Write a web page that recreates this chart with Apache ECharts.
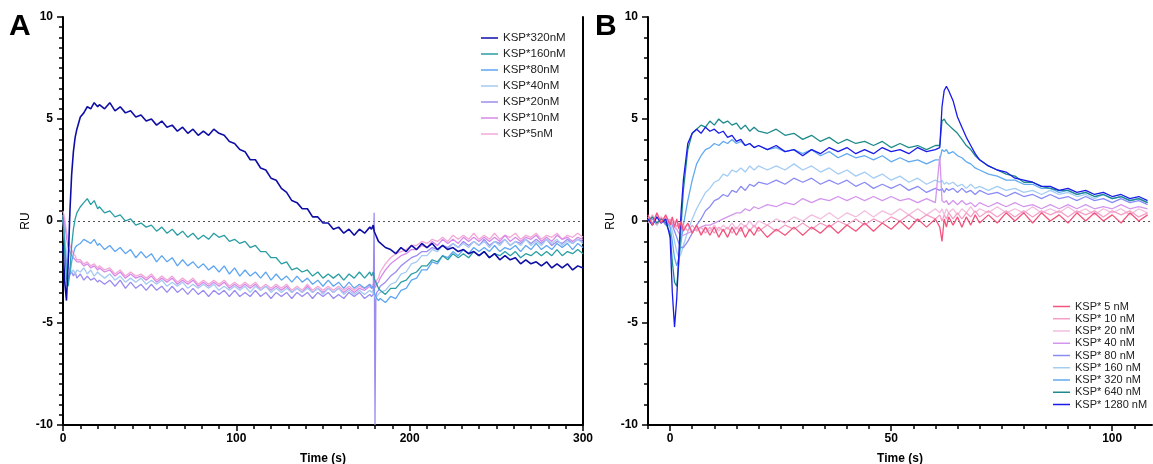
<!DOCTYPE html>
<html>
<head>
<meta charset="utf-8">
<script src="https://cdn.jsdelivr.net/npm/echarts@6/dist/echarts.min.js"></script>
<style>html,body{margin:0;padding:0;background:#fff}#c{width:1153px;height:464px}</style>
</head>
<body>
<div id="c"></div>
<script>
// ---------- Panel A data ----------
const tA = [0,1,2,3,4,5,6,7,8,10,12,14,16,18,20,
21,24,27,30,33,36,39,42,45,48,51,54,57,60,63,66,69,72,75,78,81,84,87,90,93,96,99,102,105,108,111,114,117,120,123,126,129,132,135,138,141,144,147,150,153,156,159,162,165,168,171,174,177,
178,179,179.5,180,180.5,181,182,
183,186,189,192,195,198,201,204,207,210,213,216,219,222,225,228,231,234,237,240,243,246,249,252,255,258,261,264,267,270,273,276,279,282,285,288,291,294,297,300];

const A_320 = [-1.2,-3.0,-3.9,-2.0,0.5,2.3,3.4,4.1,4.5,5.1,5.3,5.6,5.5,5.8,5.6,
5.7,5.5,5.8,5.4,5.6,5.3,5.4,5.1,5.2,4.9, 5.0,4.7,4.9,4.6,4.7,4.4,4.6,4.3,4.5,4.2, 4.4,4.2,4.5,4.3,4.2,3.9,3.8,3.5,3.4,3.0, 3.0,2.6,2.5,2.1,2.0,1.6,1.4,1.0,0.9,0.6, 0.6,0.2,0.2,-0.1,-0.1,-0.4,-0.3,-0.6,-0.4,-0.7, -0.4,-0.6,-0.3,
-0.4,-0.2,-0.5,-0.6,-0.7,-0.8,-1.0,
-1.0,-1.3,-1.4,-1.6,-1.3,-1.5,-1.2,-1.4,-1.1,-1.3, -1.1,-1.4,-1.2,-1.4,-1.3,-1.5,-1.4,-1.6,-1.5,-1.7, -1.5,-1.8,-1.6,-1.9,-1.7,-1.9,-1.8,-2.1,-1.9,-2.1, -2.0,-2.2,-2.0,-2.3,-2.1,-2.3,-2.1,-2.4,-2.2,-2.3];

const A_160 = [0.2,-1.5,-2.8,-3.2,-2.4,-1.2,-0.4,0.1,0.4,0.7,0.9,1.1,0.8,1.0,0.6,
0.7,0.4,0.5,0.2,0.3,0.0,0.1,-0.2,-0.1,-0.3, -0.2,-0.5,-0.3,-0.6,-0.4,-0.7,-0.5,-0.8,-0.6,-0.9, -0.7,-0.9,-0.6,-0.8,-0.7,-1.0,-0.9,-1.1,-1.0,-1.3, -1.2,-1.5,-1.5,-1.8,-1.8,-2.1,-2.0,-2.4,-2.3,-2.5, -2.4,-2.7,-2.5,-2.8,-2.6,-2.8,-2.6,-2.9,-2.6,-2.8, -2.5,-2.8,-2.5,
-2.7,-2.5,-2.8,-2.9,-3.0,-3.1,-3.3,
-3.4,-3.6,-3.3,-3.3,-3.0,-2.9,-2.6,-2.5,-2.2,-2.2, -1.9,-2.0,-1.7,-1.9,-1.6,-1.8,-1.6,-1.8,-1.5,-1.7, -1.5,-1.8,-1.6,-1.7,-1.5,-1.7,-1.5,-1.8,-1.6,-1.7, -1.5,-1.7,-1.5,-1.7,-1.4,-1.7,-1.5,-1.6,-1.4,-1.6];

const A_80 = [0.3,-1.2,-2.4,-3.0,-2.6,-2.0,-1.6,-1.3,-1.2,-1.1,-0.9,-1.0,-1.1,-0.9,-1.2,
-1.1,-1.4,-1.2,-1.5,-1.3,-1.6,-1.4,-1.8,-1.5,-1.8, -1.6,-2.0,-1.7,-2.0,-1.8,-2.2,-1.9,-2.2,-2.0,-2.3, -2.1,-2.4,-2.2,-2.5,-2.2,-2.6,-2.3,-2.7,-2.4,-2.7, -2.5,-2.8,-2.5,-2.9,-2.6,-2.9,-2.7,-3.0,-2.7,-3.0, -2.8,-3.1,-2.9,-3.2,-2.9,-3.2,-3.0,-3.3,-3.0,-3.3, -3.1,-3.3,-3.1,
-3.3,-3.2,-3.5,-3.6,-3.7,-3.8,-3.9,
-3.8,-4.0,-3.7,-3.8,-3.4,-3.3,-2.9,-2.8,-2.4,-2.4, -2.0,-2.1,-1.7,-1.8,-1.5,-1.7,-1.4,-1.6,-1.3,-1.5, -1.3,-1.5,-1.2,-1.5,-1.3,-1.4,-1.2,-1.5,-1.2,-1.4, -1.1,-1.4,-1.2,-1.4,-1.1,-1.3,-1.1,-1.4,-1.1,-1.3];

const A_40 = [0.1,-0.8,-1.6,-2.2,-2.4,-2.5,-2.4,-2.6,-2.4,-2.5,-2.3,-2.6,-2.4,-2.7,-2.5,
-2.6,-2.8,-2.6,-2.9,-2.7,-3.0,-2.8,-3.0,-2.8,-3.1, -2.9,-3.1,-2.9,-3.2,-3.0,-3.2,-3.0,-3.3,-3.1,-3.3, -3.1,-3.3,-3.1,-3.4,-3.2,-3.4,-3.2,-3.4,-3.2,-3.5, -3.2,-3.4,-3.2,-3.5,-3.3,-3.5,-3.3,-3.5,-3.3,-3.5, -3.3,-3.5,-3.3,-3.6,-3.3,-3.5,-3.3,-3.6,-3.4,-3.6, -3.4,-3.6,-3.4,
-3.5,-3.4,-3.6,-3.7,-3.8,-3.7,-3.6,
-3.5,-3.4,-3.1,-3.0,-2.6,-2.5,-2.1,-2.0,-1.7,-1.7, -1.4,-1.5,-1.2,-1.4,-1.1,-1.3,-1.1,-1.3,-1.0,-1.2, -1.0,-1.3,-1.0,-1.2,-0.9,-1.2,-1.0,-1.2,-0.9,-1.2, -1.0,-1.2,-0.9,-1.1,-0.9,-1.2,-1.0,-1.1,-0.9,-1.1];

const A_20 = [0.0,-1.0,-2.0,-2.8,-2.6,-2.5,-2.7,-2.5,-2.8,-2.6,-2.9,-2.7,-2.9,-2.8,-3.0,
-2.9,-3.1,-2.9,-3.2,-2.9,-3.3,-3.0,-3.3,-3.1,-3.4, -3.1,-3.4,-3.2,-3.5,-3.2,-3.5,-3.3,-3.6,-3.3,-3.6, -3.4,-3.7,-3.4,-3.6,-3.4,-3.7,-3.4,-3.7,-3.5,-3.7, -3.4,-3.7,-3.5,-3.8,-3.5,-3.7,-3.5,-3.8,-3.5,-3.7, -3.5,-3.8,-3.5,-3.7,-3.5,-3.8,-3.6,-3.8,-3.5,-3.7, -3.5,-3.8,-3.6,
-3.7,-3.6,0.4,-10,-3.7,-3.5,-3.4,
-3.2,-3.0,-2.7,-2.5,-2.2,-2.0,-1.8,-1.7,-1.5,-1.5, -1.3,-1.4,-1.2,-1.3,-1.1,-1.3,-1.0,-1.2,-1.0,-1.2, -0.9,-1.2,-1.0,-1.1,-0.9,-1.2,-1.0,-1.1,-0.9,-1.1, -0.9,-1.1,-0.9,-1.2,-1.0,-1.1,-0.9,-1.1,-0.9,-1.0];

const A_10 = [0.3,-0.2,-0.8,-1.3,-1.5,-1.7,-1.8,-1.9,-2.0,-2.0,-2.2,-2.1,-2.3,-2.2,-2.4,
-2.3,-2.5,-2.4,-2.7,-2.5,-2.8,-2.6,-2.8,-2.7,-2.9, -2.7,-3.0,-2.8,-3.0,-2.8,-3.1,-2.9,-3.1,-2.9,-3.2, -3.0,-3.2,-3.0,-3.2,-3.0,-3.3,-3.1,-3.3,-3.1,-3.3, -3.1,-3.4,-3.2,-3.4,-3.2,-3.4,-3.2,-3.5,-3.3,-3.5, -3.2,-3.5,-3.3,-3.5,-3.3,-3.5,-3.3,-3.5,-3.3,-3.5, -3.3,-3.4,-3.2,
-3.3,-3.2,-3.3,-3.3,-3.2,-3.1,-3.0,
-2.8,-2.4,-2.1,-1.9,-1.7,-1.6,-1.4,-1.4,-1.2,-1.3, -1.0,-1.2,-0.9,-1.1,-0.9,-1.1,-0.8,-1.0,-0.8,-1.0, -0.8,-1.0,-0.8,-1.0,-0.7,-1.0,-0.8,-1.0,-0.8,-0.9, -0.7,-1.0,-0.8,-1.0,-0.7,-0.9,-0.8,-1.0,-0.8,-0.9];

const A_5 = [0.5,0.1,-0.5,-0.9,-1.2,-1.4,-1.6,-1.7,-1.9,-1.9,-2.1,-2.0,-2.2,-2.1,-2.3,
-2.2,-2.4,-2.3,-2.6,-2.4,-2.7,-2.5,-2.7,-2.6,-2.8, -2.6,-2.9,-2.7,-2.9,-2.7,-3.0,-2.8,-3.0,-2.8,-3.1, -2.9,-3.1,-2.9,-3.1,-2.9,-3.2,-3.0,-3.2,-3.0,-3.2, -3.0,-3.3,-3.1,-3.3,-3.1,-3.3,-3.1,-3.4,-3.2,-3.4, -3.1,-3.4,-3.2,-3.4,-3.2,-3.4,-3.2,-3.4,-3.2,-3.4, -3.2,-3.3,-3.1,
-3.2,-3.1,-3.1,-3.2,-3.0,-2.9,-2.8,
-2.5,-2.1,-1.8,-1.6,-1.5,-1.4,-1.2,-1.2,-1.0,-1.1, -0.9,-1.0,-0.8,-1.0,-0.7,-0.9,-0.7,-0.9,-0.6,-0.9, -0.7,-0.9,-0.6,-0.9,-0.7,-0.8,-0.6,-0.9,-0.7,-0.8, -0.6,-0.9,-0.7,-0.8,-0.6,-0.9,-0.7,-0.8,-0.6,-0.8];

const namesA = ['KSP*320nM','KSP*160nM','KSP*80nM','KSP*40nM','KSP*20nM','KSP*10nM','KSP*5nM'];
const valuesA = [A_320, A_160, A_80, A_40, A_20, A_10, A_5];
const colorsA = ['#0e0ea6','#2a9ea3','#5ea6f2','#a6caf2','#9a8cf0','#d68ae8','#f3a8d6'];

// ---------- Panel B data ----------
const tB = [-5,-4,-3,-2,-1,0,0.5,1,1.5,2,2.5,3,4,5,6,7,8,9,10,11,12,13,14,15,16,17,18,19,20,
22,24,26,28,30,32,34,36,38,40,42,44,46,48,50,52,54,56,58,60,
61,61.5,62,62.5,63,64,65,66,67,68,69,70,
72,74,76,78,80,82,84,86,88,90,92,94,96,98,100,102,104,106,108];

const B_1280 = [0.1,-0.2,0.2,-0.1,0.1,-0.8,-3.5,-5.2,-3.8,-1.5,0.5,2.0,3.8,4.3,4.5,4.3,4.6,4.4,4.5,4.3,4.4,4.1,4.2,3.9,4.0,3.7,3.8,3.6,3.7,
3.5,3.7,3.4,3.5,3.2,3.5,3.3,3.6,3.4,3.6,3.3,3.5,3.3,3.6,3.4,3.5,3.3,3.6,3.4,3.5,
3.6,5.6,6.4,6.6,6.4,5.9,5.1,4.6,4.1,3.7,3.3,3.0,
2.7,2.5,2.4,2.1,2.0,1.9,1.7,1.7,1.5,1.6,1.4,1.5,1.3,1.4,1.2,1.3,1.1,1.2,1.0];

const B_640 = [0.0,0.2,-0.1,0.1,-0.1,-0.6,-2.0,-3.0,-3.2,-2.0,-0.2,1.5,3.5,4.3,4.5,4.7,4.6,4.9,4.7,5.0,4.8,4.9,4.7,4.8,4.5,4.7,4.4,4.6,4.4,
4.3,4.5,4.2,4.3,4.0,4.2,3.9,4.1,3.8,4.0,3.8,3.9,3.7,3.9,3.6,3.8,3.6,3.7,3.5,3.7,
3.7,4.9,5.0,4.8,4.7,4.5,4.3,4.0,3.7,3.5,3.2,3.0,
2.7,2.5,2.3,2.2,1.9,1.9,1.7,1.6,1.5,1.5,1.3,1.4,1.2,1.3,1.1,1.2,1.0,1.1,0.9];

const B_320 = [-0.1,0.1,-0.2,0.1,0.0,-0.3,-1.0,-1.8,-2.2,-1.8,-1.0,-0.2,1.0,2.0,2.8,3.2,3.5,3.6,3.8,3.7,3.9,3.8,4.0,3.8,3.9,3.7,3.8,3.6,3.7,
3.5,3.6,3.4,3.5,3.3,3.5,3.2,3.4,3.1,3.3,3.1,3.2,3.0,3.2,2.9,3.1,2.9,3.0,2.8,3.0,
3.0,3.5,3.4,3.5,3.3,3.4,3.2,3.1,2.9,2.8,2.6,2.5,
2.3,2.2,2.0,2.0,1.8,1.8,1.6,1.6,1.4,1.5,1.3,1.4,1.2,1.3,1.1,1.2,1.0,1.1,0.9];

const B_160 = [0.1,-0.2,0.2,-0.1,0.1,-0.1,-0.5,-1.0,-1.5,-1.8,-1.6,-1.2,-0.5,0.1,0.6,1.0,1.4,1.6,1.9,2.0,2.3,2.2,2.5,2.4,2.6,2.4,2.7,2.5,2.7,
2.5,2.7,2.5,2.8,2.5,2.7,2.4,2.6,2.3,2.5,2.2,2.4,2.1,2.3,2.0,2.2,1.9,2.1,1.8,2.0,
1.9,2.0,1.8,1.9,1.8,1.9,1.7,1.8,1.6,1.8,1.6,1.7,
1.5,1.7,1.5,1.6,1.4,1.5,1.3,1.5,1.3,1.4,1.2,1.3,1.1,1.3,1.1,1.2,1.0,1.1,0.9];

const B_80 = [0.0,0.2,-0.1,0.1,-0.2,0.0,-0.2,-0.5,-0.8,-1.1,-1.3,-1.3,-1.0,-0.6,-0.2,0.1,0.5,0.7,1.0,1.1,1.3,1.2,1.5,1.4,1.7,1.5,1.8,1.7,1.9,
1.8,2.0,1.8,2.1,1.9,2.1,1.8,2.0,1.8,2.0,1.7,1.9,1.6,1.8,1.6,1.8,1.5,1.7,1.4,1.6,
1.5,1.6,1.4,1.6,1.5,1.6,1.4,1.6,1.4,1.5,1.3,1.5,
1.3,1.4,1.2,1.4,1.2,1.3,1.1,1.3,1.1,1.2,1.0,1.2,1.0,1.1,0.9,1.1,0.9,1.0,0.8];

const B_40 = [0.1,-0.1,0.2,-0.1,0.1,0.0,-0.1,-0.3,-0.4,-0.6,-0.7,-0.7,-0.6,-0.5,-0.4,-0.3,-0.2,-0.2,-0.1,0.0,0.1,0.2,0.3,0.4,0.4,0.6,0.5,0.7,0.6,
0.8,0.7,0.9,0.8,1.1,0.9,1.1,1.0,1.2,1.0,1.2,1.0,1.2,1.0,1.2,1.0,1.1,0.9,1.1,0.9,
3.2,1.0,0.9,1.0,0.8,1.0,0.8,1.0,0.8,0.9,0.7,0.9,
0.7,0.9,0.7,0.9,0.7,0.8,0.6,0.8,0.6,0.8,0.6,0.8,0.6,0.7,0.6,0.8,0.6,0.7,0.6];

const B_20 = [0.2,-0.2,0.3,-0.1,0.2,0.0,0.1,-0.1,0.0,-0.2,-0.1,-0.3,-0.2,-0.5,-0.3,-0.6,-0.3,-0.5,-0.2,-0.5,-0.2,-0.4,-0.1,-0.4,-0.1,-0.3,0.0,-0.3,0.0,
-0.2,0.1,-0.1,0.2,0.0,0.3,0.1,0.4,0.1,0.4,0.2,0.5,0.2,0.5,0.3,0.6,0.3,0.6,0.3,0.6,
0.4,0.6,0.3,0.6,0.4,0.6,0.3,0.6,0.4,0.7,0.4,0.6,
0.4,0.7,0.4,0.6,0.4,0.7,0.4,0.6,0.4,0.7,0.4,0.6,0.3,0.6,0.4,0.6,0.3,0.6,0.4];

const B_10 = [-0.1,0.3,-0.2,0.2,-0.1,0.1,-0.1,0.0,-0.3,-0.1,-0.4,-0.2,-0.5,-0.2,-0.5,-0.3,-0.6,-0.3,-0.6,-0.3,-0.5,-0.3,-0.6,-0.3,-0.5,-0.2,-0.5,-0.2,-0.5,
-0.2,-0.5,-0.2,-0.4,-0.1,-0.4,-0.1,-0.3,0.0,-0.2,0.1,-0.2,0.1,-0.1,0.2,0.0,0.3,0.0,0.3,0.1,
0.3,0.0,0.3,0.1,0.4,0.1,0.4,0.1,0.4,0.2,0.5,0.2,
0.5,0.2,0.5,0.2,0.5,0.2,0.5,0.3,0.5,0.2,0.5,0.3,0.5,0.2,0.5,0.3,0.5,0.2,0.4];

const B_5 = [0.3,-0.2,0.4,-0.1,0.3,-0.2,0.2,-0.3,0.1,-0.4,0.0,-0.5,-0.1,-0.6,-0.2,-0.7,-0.3,-0.7,-0.3,-0.8,-0.4,-0.8,-0.3,-0.7,-0.3,-0.8,-0.4,-0.7,-0.3,
-0.8,-0.4,-0.7,-0.3,-0.7,-0.3,-0.6,-0.2,-0.6,-0.2,-0.5,-0.1,-0.5,-0.1,-0.4,0.0,-0.4,0.1,-0.3,0.1,
-0.3,-1.0,0.1,-0.3,0.2,-0.2,0.2,-0.3,0.2,-0.2,0.3,-0.1,
0.3,-0.1,0.4,0.0,0.4,-0.1,0.4,0.0,0.3,-0.1,0.4,0.0,0.4,0.0,0.3,-0.1,0.4,0.0,0.3];

const namesB = ['KSP* 5 nM','KSP* 10 nM','KSP* 20 nM','KSP* 40 nM','KSP* 80 nM','KSP* 160 nM','KSP* 320 nM','KSP* 640 nM','KSP* 1280 nM'];
const valuesB = [B_5, B_10, B_20, B_40, B_80, B_160, B_320, B_640, B_1280];
const colorsB = ['#f2557e','#f4a0c6','#f3bde0','#d496ec','#8a8cf4','#a4cdf4','#62aaf0','#1e8a8c','#1a1ae8'];

// ---------- Chart ----------
const FONT = '"Liberation Sans", Arial, sans-serif';
const BLACK = '#000';
const series = [];

// Panel A: draw low concentrations first so 320nM sits on top
for (let k = valuesA.length - 1; k >= 0; k--) {
  const s = {
    name: namesA[k], type: 'line', xAxisIndex: 0, yAxisIndex: 0,
    data: tA.map((t, i) => [t, valuesA[k][i]]),
    showSymbol: false, symbol: 'none', animation: false,
    lineStyle: { width: k === 0 ? 1.6 : 1.3, color: colorsA[k] },
    itemStyle: { color: colorsA[k] }, z: 2
  };
  if (k === valuesA.length - 1) {
    s.markLine = { silent: true, symbol: 'none', label: { show: false },
      lineStyle: { type: [2, 3], color: '#555', width: 1 }, data: [{ yAxis: 0 }], z: 1 };
  }
  series.push(s);
}
// Panel B draw order
const orderB = [5, 6, 4, 3, 2, 1, 7, 8, 0];
orderB.forEach((k, j) => {
  const s = {
    name: namesB[k], type: 'line', xAxisIndex: 1, yAxisIndex: 1,
    data: tB.map((t, i) => [t, valuesB[k][i]]),
    showSymbol: false, symbol: 'none', animation: false,
    lineStyle: { width: 1.3, color: colorsB[k] },
    itemStyle: { color: colorsB[k] }, z: 2
  };
  if (j === 0) {
    s.markLine = { silent: true, symbol: 'none', label: { show: false },
      lineStyle: { type: [2, 3], color: '#555', width: 1 }, data: [{ yAxis: 0 }], z: 1 };
  }
  series.push(s);
});

const axisLbl = { color: BLACK, fontFamily: FONT, fontWeight: 'bold', fontSize: 12 };
const nameStyleX = { color: BLACK, fontFamily: FONT, fontWeight: 'bold', fontSize: 12 };
const nameStyleY = { color: BLACK, fontFamily: FONT, fontWeight: 'normal', fontSize: 12 };
const lineBlack = { color: BLACK, width: 2 };
const tickBlack = { color: BLACK, width: 1.5 };

const option = {
  animation: false,
  backgroundColor: '#fff',
  textStyle: { fontFamily: FONT },
  grid: [
    { left: 63, top: 17, width: 520, height: 408, containLabel: false, outerBoundsMode: 'none' },
    { left: 648, top: 17, width: 504, height: 408, containLabel: false, outerBoundsMode: 'none' }
  ],
  xAxis: [
    { type: 'value', gridIndex: 0, min: 0, max: 300, interval: 100,
      name: 'Time (s)', nameLocation: 'middle', nameGap: 28, nameTextStyle: nameStyleX,
      axisLine: { show: true, onZero: false, lineStyle: lineBlack },
      axisTick: { show: true, length: 6, lineStyle: tickBlack },
      minorTick: { show: true, splitNumber: 10, length: 4, lineStyle: tickBlack },
      axisLabel: Object.assign({ margin: 8 }, axisLbl),
      splitLine: { show: false }, minorSplitLine: { show: false } },
    { type: 'value', gridIndex: 1, min: -5, max: 109,
      name: 'Time (s)', nameLocation: 'middle', nameGap: 28, nameTextStyle: nameStyleX,
      axisLine: { show: true, onZero: false, lineStyle: lineBlack },
      axisTick: { show: true, length: 6, lineStyle: tickBlack, customValues: [0, 50, 100] },
      axisLabel: Object.assign({ margin: 8, customValues: [0, 50, 100] }, axisLbl),
      splitLine: { show: false } },
    { type: 'value', gridIndex: 1, min: -5, max: 109, position: 'bottom', offset: 0,
      axisLine: { show: false, onZero: false },
      axisTick: { show: true, length: 4, lineStyle: tickBlack,
        customValues: [-5,5,10,15,20,25,30,35,40,45,55,60,65,70,75,80,85,90,95,105] },
      axisLabel: { show: false }, splitLine: { show: false } }
  ],
  yAxis: [
    { type: 'value', gridIndex: 0, min: -10, max: 10, interval: 5,
      name: 'RU', nameLocation: 'middle', nameGap: 27, nameTextStyle: nameStyleY,
      axisLine: { show: true, onZero: false, lineStyle: lineBlack },
      axisTick: { show: true, length: 6, lineStyle: tickBlack },
      minorTick: { show: true, splitNumber: 10, length: 4, lineStyle: tickBlack },
      axisLabel: Object.assign({ margin: 10 }, axisLbl),
      splitLine: { show: false }, minorSplitLine: { show: false } },
    { type: 'value', gridIndex: 1, min: -10, max: 10, interval: 5,
      name: 'RU', nameLocation: 'middle', nameGap: 27, nameTextStyle: nameStyleY,
      axisLine: { show: true, onZero: false, lineStyle: lineBlack },
      axisTick: { show: true, length: 6, lineStyle: tickBlack },
      minorTick: { show: true, splitNumber: 5, length: 4, lineStyle: tickBlack },
      axisLabel: Object.assign({ margin: 10 }, axisLbl),
      splitLine: { show: false }, minorSplitLine: { show: false } },
    { type: 'value', gridIndex: 0, min: -10, max: 10, position: 'right',
      axisLine: { show: true, onZero: false, lineStyle: lineBlack },
      axisTick: { show: false }, axisLabel: { show: false }, splitLine: { show: false } }
  ],
  legend: [
    { data: namesA.slice(), orient: 'vertical', left: 476, top: 27,
      icon: 'rect', itemWidth: 17, itemHeight: 1.5, itemGap: 4,
      textStyle: { color: '#222', fontFamily: FONT, fontSize: 11.5, lineHeight: 12 } },
    { data: namesB.slice(), orient: 'vertical', left: 1048, top: 296,
      icon: 'rect', itemWidth: 17, itemHeight: 1.5, itemGap: 1.25,
      textStyle: { color: '#222', fontFamily: FONT, fontSize: 11, lineHeight: 11 } }
  ],
  graphic: [
    { type: 'text', left: 9, top: 12, style: { text: 'A', font: 'bold 30px ' + FONT, fill: BLACK } },
    { type: 'text', left: 595, top: 12, style: { text: 'B', font: 'bold 30px ' + FONT, fill: BLACK } }
  ],
  series: series
};

const chart = echarts.init(document.getElementById('c'), null, { renderer: 'canvas' });
chart.setOption(option);
</script>
</body>
</html>
